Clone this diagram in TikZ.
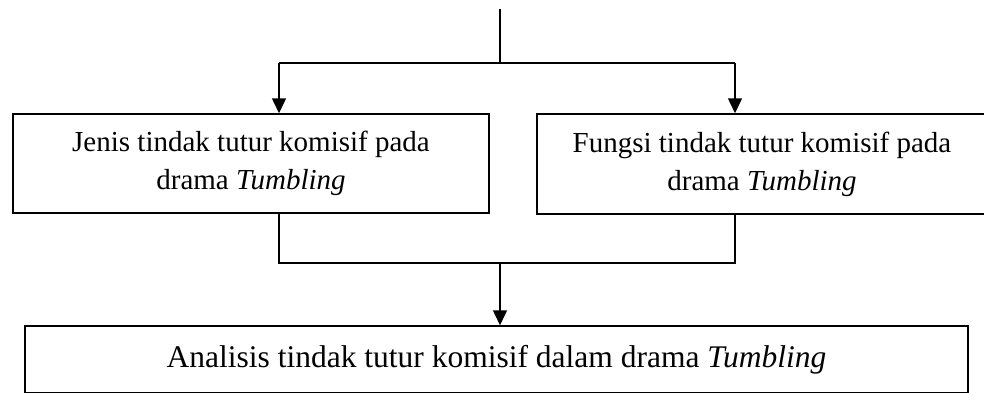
\documentclass[tikz,border=0pt]{standalone}
\usepackage{fontspec}
\setmainfont{Liberation Serif}
\usetikzlibrary{arrows.meta}
\tikzset{
  box/.style={draw, line width=1.5pt, inner sep=0pt, align=center, font=\fontsize{29}{38}\selectfont},
  bigbox/.style={box, font=\fontsize{31.5}{38}\selectfont},
  conn/.style={line width=1.5pt},
  arr/.style={conn, -{Triangle[length=15pt,width=14pt]}}
}
\begin{document}
\begin{tikzpicture}[x=1pt,y=-1pt]
\useasboundingbox (0,0) rectangle (984,392);
\node[box, minimum width=476pt, minimum height=99pt] (jenis) at (251,163.5)
  {Jenis tindak tutur komisif pada\\drama \textit{Tumbling}};
\node[box, minimum width=450pt, minimum height=100pt] (fungsi) at (762,164)
  {Fungsi tindak tutur komisif pada\\drama \textit{Tumbling}};
\node[bigbox, minimum width=943pt, minimum height=67pt] (analisis) at (496.5,359.5)
  {Analisis tindak tutur komisif dalam drama \textit{Tumbling}};
\coordinate (top) at (500,9);
\coordinate (split) at (500,63);
\coordinate (sl) at (279,63);
\coordinate (sr) at (735,63);
\coordinate (ml) at (279,263);
\coordinate (mr) at (735,263);
\coordinate (mm) at (500,263);
\draw[conn] (top) -- (split);
\draw[conn] (sl) -- (sr);
\draw[arr] (sl) -- (sl |- jenis.north);
\draw[arr] (sr) -- (sr |- fungsi.north);
\draw[conn] (ml |- jenis.south) -- (ml) -- (mr) -- (mr |- fungsi.south);
\draw[arr] (mm) -- (mm |- analisis.north);
\end{tikzpicture}
\end{document}
